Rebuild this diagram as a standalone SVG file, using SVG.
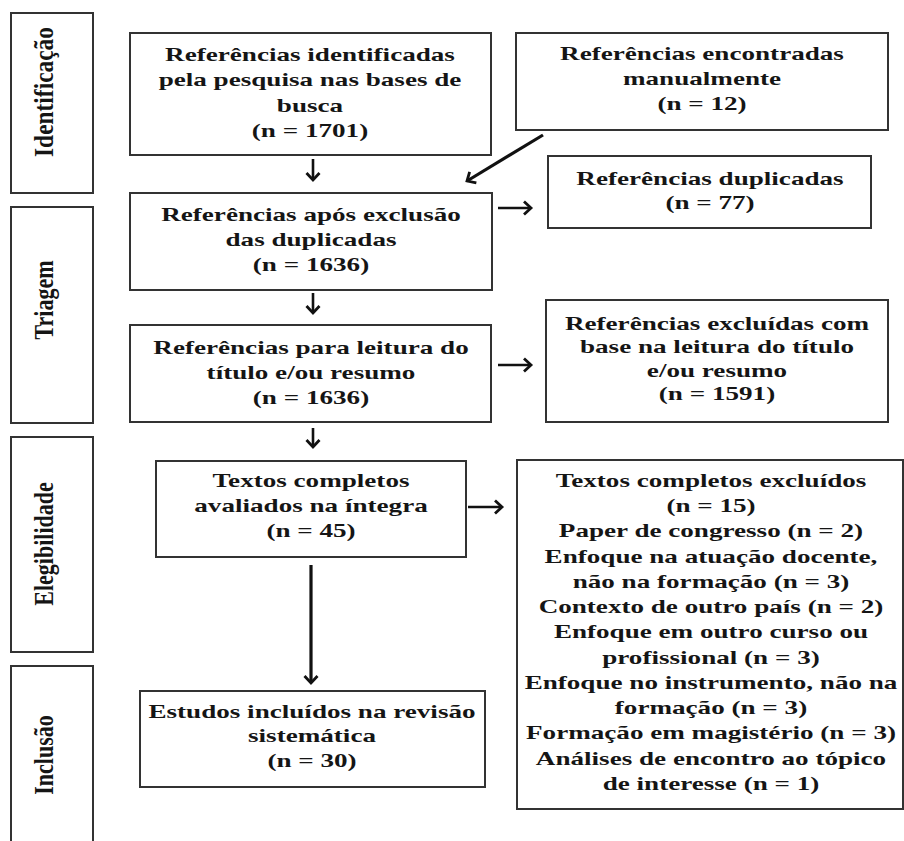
<svg xmlns="http://www.w3.org/2000/svg" width="904" height="841" viewBox="0 0 904 841">
<style>
.box{fill:#fff;stroke:#333;stroke-width:2}
.t{font-family:"Liberation Serif","Times New Roman",serif;font-weight:bold;font-size:19.5px;fill:#151515;text-anchor:middle}
.lab{font-family:"Liberation Serif","Times New Roman",serif;font-weight:bold;font-size:22px;fill:#151515;text-anchor:middle}
.c{fill:none;stroke:#111;stroke-width:2.6}
.ct{fill:none;stroke:#111;stroke-width:3.2}
</style>
<defs>
<marker id="ah" markerUnits="userSpaceOnUse" markerWidth="16" markerHeight="16" viewBox="0 0 16 16" refX="13" refY="8" orient="auto">
<path d="M6,1.5 L13,8 L6,14.5" fill="none" stroke="#111" stroke-width="2.8"/>
</marker>
</defs>
<rect width="904" height="841" fill="#fff"/>
<g id="phase-identificacao">
<rect class="box" x="11" y="13" width="82" height="180"/>
<text class="lab" transform="translate(53,92) scale(1.2,1) rotate(-90)" x="0" y="0" textLength="130" lengthAdjust="spacingAndGlyphs">Identificação</text>
</g>
<g id="phase-triagem">
<rect class="box" x="11" y="207" width="82" height="216"/>
<text class="lab" transform="translate(53,300) scale(1.2,1) rotate(-90)" x="0" y="0">Triagem</text>
</g>
<g id="phase-elegibilidade">
<rect class="box" x="11" y="437" width="82" height="215"/>
<text class="lab" transform="translate(53,544) scale(1.2,1) rotate(-90)" x="0" y="0">Elegibilidade</text>
</g>
<g id="phase-inclusao">
<rect class="box" x="11" y="666" width="82" height="190"/>
<text class="lab" transform="translate(53,755) scale(1.2,1) rotate(-90)" x="0" y="0">Inclusão</text>
</g>
<g id="n-identificadas">
<rect class="box" x="130" y="33" width="361" height="122"/>
<text class="t" transform="translate(310,0) scale(1.39,1)"><tspan x="0" y="61">Referências identificadas</tspan><tspan x="0" y="86.3">pela pesquisa nas bases de</tspan><tspan x="0" y="111.6">busca</tspan><tspan x="0" y="137">(n = 1701)</tspan></text>
</g>
<g id="n-manual">
<rect class="box" x="516" y="33" width="372" height="97"/>
<text class="t" transform="translate(702,0) scale(1.39,1)"><tspan x="0" y="60">Referências encontradas</tspan><tspan x="0" y="85">manualmente</tspan><tspan x="0" y="110">(n = 12)</tspan></text>
</g>
<g id="n-duplicadas">
<rect class="box" x="548" y="156" width="323" height="72"/>
<text class="t" transform="translate(710,0) scale(1.39,1)"><tspan x="0" y="185">Referências duplicadas</tspan><tspan x="0" y="209">(n = 77)</tspan></text>
</g>
<g id="n-apos-exclusao">
<rect class="box" x="130" y="193" width="362" height="97"/>
<text class="t" transform="translate(311,0) scale(1.39,1)"><tspan x="0" y="221">Referências após exclusão</tspan><tspan x="0" y="246">das duplicadas</tspan><tspan x="0" y="271">(n = 1636)</tspan></text>
</g>
<g id="n-leitura">
<rect class="box" x="130" y="325" width="361" height="97"/>
<text class="t" transform="translate(311,0) scale(1.39,1)"><tspan x="0" y="354">Referências para leitura do</tspan><tspan x="0" y="379">título e/ou resumo</tspan><tspan x="0" y="404">(n = 1636)</tspan></text>
</g>
<g id="n-excluidas-titulo">
<rect class="box" x="546" y="300" width="342" height="122"/>
<text class="t" transform="translate(717,0) scale(1.39,1)"><tspan x="0" y="330">Referências excluídas com</tspan><tspan x="0" y="353">base na leitura do título</tspan><tspan x="0" y="377">e/ou resumo</tspan><tspan x="0" y="400">(n = 1591)</tspan></text>
</g>
<g id="n-textos-completos">
<rect class="box" x="156" y="461" width="310" height="96"/>
<text class="t" transform="translate(311,0) scale(1.39,1)"><tspan x="0" y="487">Textos completos</tspan><tspan x="0" y="512">avaliados na íntegra</tspan><tspan x="0" y="537">(n = 45)</tspan></text>
</g>
<g id="n-textos-excluidos">
<rect class="box" x="517" y="460" width="386" height="349"/>
<text class="t" transform="translate(711,0) scale(1.39,1)"><tspan x="0" y="487">Textos completos excluídos</tspan><tspan x="0" y="512.25">(n = 15)</tspan><tspan x="0" y="537.5">Paper de congresso (n = 2)</tspan><tspan x="0" y="562.75">Enfoque na atuação docente,</tspan><tspan x="0" y="588">não na formação (n = 3)</tspan><tspan x="0" y="613.25">Contexto de outro país (n = 2)</tspan><tspan x="0" y="638.5">Enfoque em outro curso ou</tspan><tspan x="0" y="663.75">profissional (n = 3)</tspan><tspan x="0" y="689">Enfoque no instrumento, não na</tspan><tspan x="0" y="714.25">formação (n = 3)</tspan><tspan x="0" y="739.5">Formação em magistério (n = 3)</tspan><tspan x="0" y="764.75">Análises de encontro ao tópico</tspan><tspan x="0" y="790">de interesse (n = 1)</tspan></text>
</g>
<g id="n-incluidos">
<rect class="box" x="140" y="691" width="345" height="96"/>
<text class="t" transform="translate(312,0) scale(1.39,1)"><tspan x="0" y="718">Estudos incluídos na revisão</tspan><tspan x="0" y="742.5">sistemática</tspan><tspan x="0" y="767">(n = 30)</tspan></text>
</g>
<g id="connectors">
<path class="c" d="M313,159 L313,180" marker-end="url(#ah)"/>
<path class="ct" d="M543,135 L467,181" marker-end="url(#ah)"/>
<path class="c" d="M498,208 L531,208" marker-end="url(#ah)"/>
<path class="c" d="M313,293 L313,313" marker-end="url(#ah)"/>
<path class="c" d="M498,365 L531,365" marker-end="url(#ah)"/>
<path class="c" d="M313,428 L313,447" marker-end="url(#ah)"/>
<path class="c" d="M468,507 L502,507" marker-end="url(#ah)"/>
<path class="ct" d="M311,565 L311,683" marker-end="url(#ah)"/>
</g>
</svg>
